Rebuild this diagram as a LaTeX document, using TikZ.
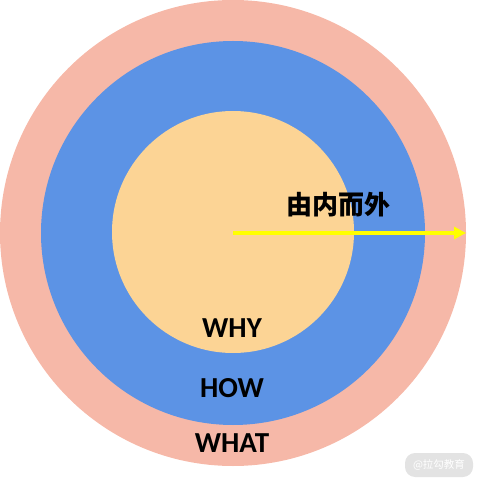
\documentclass[tikz,border=0pt]{standalone}
\usepackage{fontspec}
\setmainfont{Carlito}
\newfontfamily\cjk{Noto Sans CJK SC}
\usetikzlibrary{arrows.meta}
\definecolor{outerc}{HTML}{F6B8A8}
\definecolor{midc}{HTML}{5C93E5}
\definecolor{innerc}{HTML}{FCD495}
\definecolor{arrowc}{HTML}{FFFF00}
\definecolor{wmc}{HTML}{E3E3E3}
\begin{document}
\begin{tikzpicture}[x=1pt,y=-1pt,
  ring/.style={circle,inner sep=0pt,outer sep=0pt,draw=none},
  lbl/.style={font=\fontsize{29}{29}\selectfont\bfseries,text=black,inner sep=0pt},
  ]
\useasboundingbox (0,0) rectangle (479,478);
\node[ring,fill=outerc,minimum size=466pt] (outer) at (233,233) {};
\node[ring,fill=midc,minimum size=384pt] (mid) at (233,233) {};
\node[ring,fill=innerc,minimum size=242pt] (inner) at (233,232) {};
\coordinate (c) at (233,233);
\coordinate (tip) at (466,233);
\draw[arrowc,line width=3.5pt,-{Triangle[length=12pt,width=12pt]}] (c) -- (tip);
\node[font=\cjk\bfseries\fontsize{26}{26}\selectfont,inner sep=0pt] (dir) at (338,205) {由内而外};
\node[lbl] (why) at (232,328) {WHY};
\node[lbl] (how) at (232,388) {HOW};
\node[lbl] (what) at (232,443) {WHAT};
\node[fill=wmc,rounded corners=10pt,minimum width=68pt,minimum height=24pt,inner sep=0pt,text=white,font=\cjk\fontsize{10.5}{10.5}\selectfont] (wm) at (439,465) {@拉勾教育};
\end{tikzpicture}
\end{document}
